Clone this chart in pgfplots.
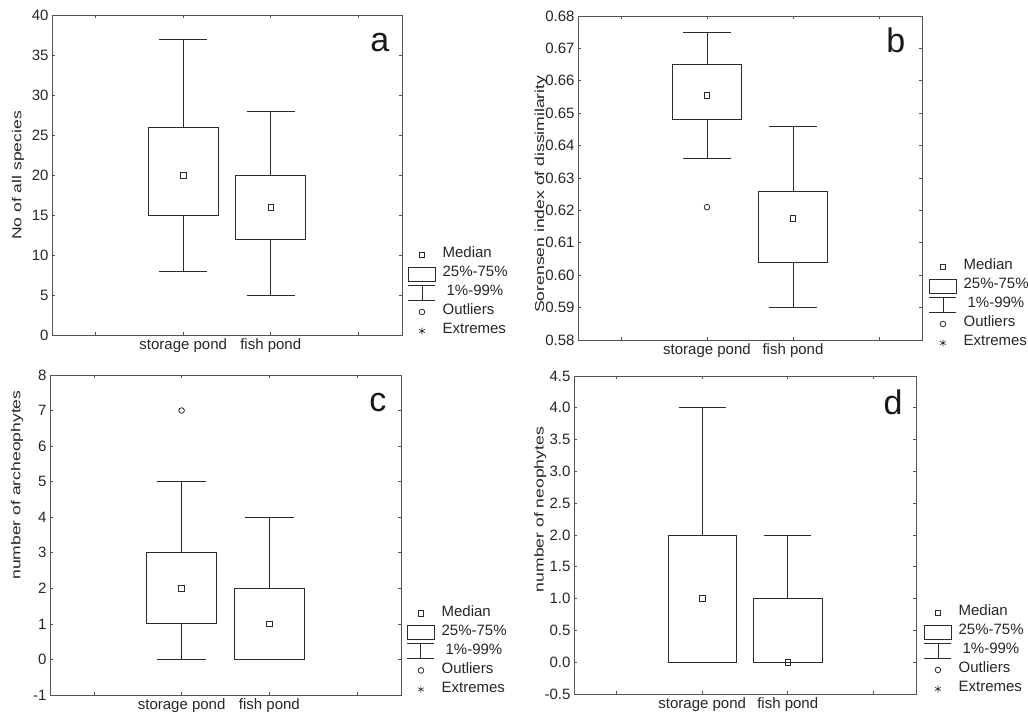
\documentclass[border=0pt]{standalone}
\usepackage{fontspec}
\setmainfont{Liberation Sans}
\usepackage{graphicx}
\usepackage{pgfplots}
\pgfplotsset{compat=1.18}
\usepgfplotslibrary{statistics}
\definecolor{ln}{HTML}{2A2A2A}
\definecolor{ax}{HTML}{555555}
\newcommand{\tfont}{\fontsize{15}{17}\selectfont}
\tikzset{letter/.style={font=\fontsize{34}{34}\selectfont, text=black!90, anchor=base}}
\pgfplotsset{
  panel/.style={
    scale only axis,
    xmin=0.5, xmax=4.5,
    xtick={1,2,3,4},
    xticklabels={,storage pond,fish pond,},
    tick align=inside,
    major tick length=3pt,
    axis line style={ax, line width=0.9pt},
    tick style={ax, line width=0.7pt},
    tick label style={font=\tfont, text=black!85},
    ylabel style={font=\fontsize{13}{15}\selectfont, text=black!85, anchor=center},
    boxplot/draw direction=y,
    boxplot/draw/median/.code={},
    legend style={draw=none, fill=none, inner sep=0pt, outer sep=0pt,
      row sep=3pt, column sep=6.7pt, font=\tfont, text=black!85,
      nodes={inner sep=0pt, text height=11pt, text depth=5pt},
      anchor=north west},
    legend cell align=left,
  },
  bx/.style={ln, line width=0.9pt, boxplot prepared={#1, box extend=0.8, whisker extend=0.55}},
  med/.style={ln, only marks, mark=square, mark size=2.8pt, mark options={line width=0.8pt}},
  outl/.style={ln, only marks, mark=o, mark size=2.8pt, mark options={line width=0.8pt}},
}
\newcommand{\legimages}{%
  \addlegendimage{legend image code/.code={\draw[ln, line width=0.8pt] (10.7pt,-2.8pt) rectangle (16.3pt,2.8pt);}}
  \addlegendentry{Median}
  \addlegendimage{legend image code/.code={\draw[ln, line width=0.9pt] (0pt,-7pt) rectangle (27pt,7pt);}}
  \addlegendentry{25\%-75\%}
  \addlegendimage{legend image code/.code={\draw[ln, line width=0.9pt] (0pt,7.5pt) -- (27pt,7.5pt) (13.5pt,7.5pt) -- (13.5pt,-7.5pt) (0pt,-7.5pt) -- (27pt,-7.5pt);}}
  \addlegendentry{\hspace{4pt}1\%-99\%}
  \addlegendimage{legend image code/.code={\draw[ln, line width=0.8pt] (13.5pt,0pt) circle (2.8pt);}}
  \addlegendentry{Outliers}
  \addlegendimage{legend image code/.code={\draw[ln, line width=0.6pt] plot[only marks, mark=asterisk, mark size=3.3pt] coordinates {(13.5pt,0pt)};}}
  \addlegendentry{Extremes}
}
\begin{document}
\begin{tikzpicture}
\useasboundingbox (0,0) rectangle (1028pt,714pt);
% ---------- a ----------
\begin{axis}[panel, at={(52pt,378.5pt)}, anchor=south west, width=350pt, height=320pt,
  ymin=0, ymax=40, ytick={0,5,...,40},
  yticklabels={0,5,10,15,20,25,30,35,40},
  ylabel={\scalebox{1.35}[1]{No of all species}},
  ylabel style={at={(axis description cs:-0.097,0.5)}},
  legend style={at={(axis description cs:1,0.2766)}, xshift=6pt}]
\legimages
\addplot[bx={draw position=2, median=20, lower quartile=15, upper quartile=26, lower whisker=8, upper whisker=37}] coordinates {};
\addplot[bx={draw position=3, median=16, lower quartile=12, upper quartile=20, lower whisker=5, upper whisker=28}] coordinates {};
\addplot[med] coordinates {(2,20) (3,16)};
\node[letter] at (rel axis cs:0.937,0.886) {a};
\end{axis}
% ---------- b ----------
\begin{axis}[panel, at={(578pt,374pt)}, anchor=south west, width=344pt, height=324pt,
  ymin=0.58, ymax=0.68, ytick={0.58,0.59,0.60,0.61,0.62,0.63,0.64,0.65,0.66,0.67,0.68},
  yticklabels={0.58,0.59,0.60,0.61,0.62,0.63,0.64,0.65,0.66,0.67,0.68},
  ylabel={\scalebox{1.35}[1]{Sorensen index of dissimilarity}},
  ylabel style={at={(axis description cs:-0.108,0.45)}},
  legend style={at={(axis description cs:1,0.25)}, xshift=7pt}]
\legimages
\addplot[bx={draw position=2, median=0.6555, lower quartile=0.648, upper quartile=0.665, lower whisker=0.636, upper whisker=0.675}] coordinates {};
\addplot[bx={draw position=3, median=0.6175, lower quartile=0.604, upper quartile=0.626, lower whisker=0.590, upper whisker=0.646}] coordinates {};
\addplot[med] coordinates {(2,0.6555) (3,0.6175)};
\addplot[outl] coordinates {(2,0.621)};
\node[letter] at (rel axis cs:0.924,0.886) {b};
\end{axis}
% ---------- c ----------
\begin{axis}[panel, at={(50pt,19pt)}, anchor=south west, width=351pt, height=320pt,
  ymin=-1, ymax=8, ytick={-1,0,...,8},
  yticklabels={-1,0,1,2,3,4,5,6,7,8},
  ylabel={\scalebox{1.35}[1]{number of archeophytes}},
  ylabel style={at={(axis description cs:-0.094,0.656)}},
  legend style={at={(axis description cs:1,0.28)}, xshift=6pt}]
\legimages
\addplot[bx={draw position=2, median=2, lower quartile=1, upper quartile=3, lower whisker=0, upper whisker=5}] coordinates {};
\addplot[bx={draw position=3, median=1, lower quartile=0, upper quartile=2, lower whisker=0, upper whisker=4}] coordinates {};
\addplot[med] coordinates {(2,2) (3,1)};
\addplot[outl] coordinates {(2,7)};
\node[letter] at (rel axis cs:0.934,0.8875) {c};
\end{axis}
% ---------- d ----------
\begin{axis}[panel, at={(574pt,20pt)}, anchor=south west, width=342pt, height=318pt,
  ymin=-0.5, ymax=4.5, ytick={-0.5,0,0.5,1,1.5,2,2.5,3,3.5,4,4.5},
  yticklabels={-0.5,0.0,0.5,1.0,1.5,2.0,2.5,3.0,3.5,4.0,4.5},
  ylabel={\scalebox{1.35}[1]{number of neophytes}},
  ylabel style={at={(axis description cs:-0.099,0.58)}},
  legend style={at={(axis description cs:1,0.28)}, xshift=8pt}]
\legimages
\addplot[bx={draw position=2, median=1, lower quartile=0, upper quartile=2, lower whisker=0, upper whisker=4}] coordinates {};
\addplot[bx={draw position=3, median=0, lower quartile=0, upper quartile=1, lower whisker=0, upper whisker=2}] coordinates {};
\addplot[med] coordinates {(2,1) (3,0)};
\node[letter] at (rel axis cs:0.933,0.88) {d};
\end{axis}
\end{tikzpicture}
\end{document}
